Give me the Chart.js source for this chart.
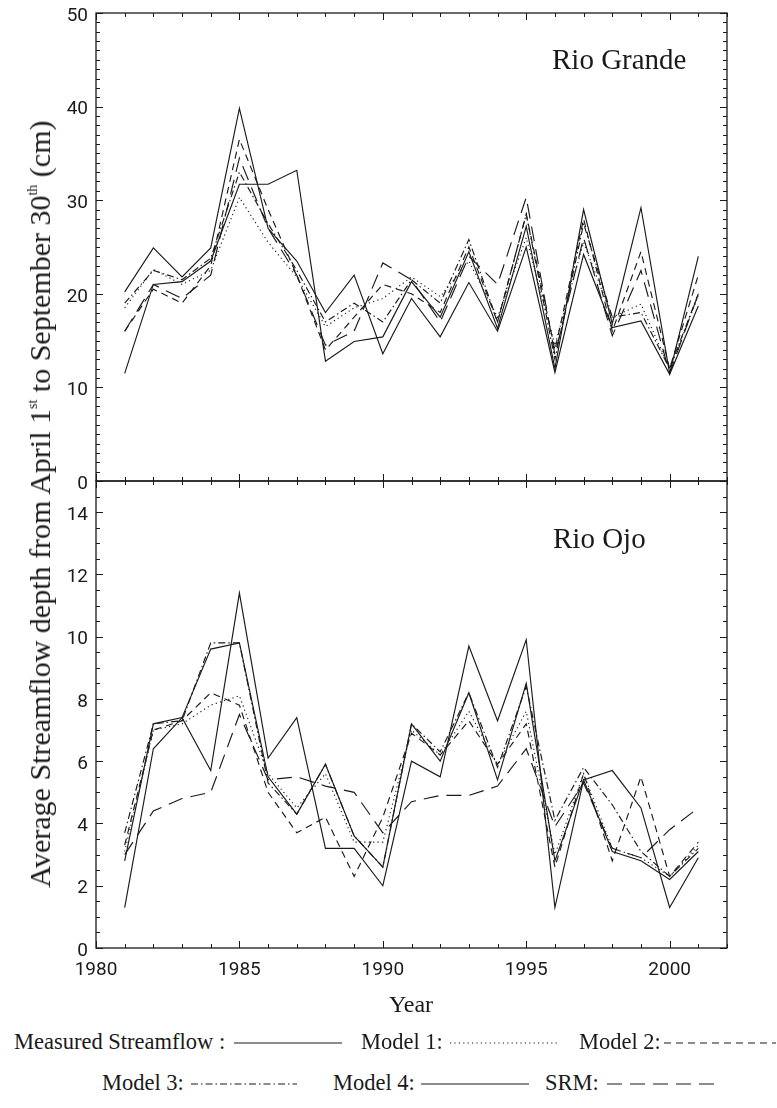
<!DOCTYPE html>
<html>
<head>
<meta charset="utf-8">
<script src="https://cdn.jsdelivr.net/npm/chart.js@4.4.1/dist/chart.umd.min.js"></script>
<style>
  body { margin: 0; background: #fff; width: 777px; height: 1108px; position: relative; overflow: hidden;
         font-family: "Liberation Serif", "Times New Roman", serif; color: #1a1a1a; }
  canvas { position: absolute; left: 0; }
  #chartTop { top: 0; }
  #chartBottom { top: 471px; }
  .txt { position: absolute; white-space: nowrap; line-height: 1; }
  .basin { font-size: 29px; }
  #yTitle { font-size: 30px; left: 40px; top: 504px; transform: translate(-50%, -50%) rotate(-90deg); }
  #yTitle sup { font-size: 14px; vertical-align: 13px; }
  #xTitle { font-size: 24px; left: 411px; top: 1004px; transform: translate(-50%, -50%); }
  .leg { position: absolute; font-size: 22.5px; white-space: nowrap; line-height: 1; transform: translateY(-50%); }
</style>
</head>
<body>
<canvas id="chartTop" width="777" height="495"></canvas>
<canvas id="chartBottom" width="777" height="530"></canvas>

<div class="txt basin" style="left:552px; top:45px;">Rio Grande</div>
<div class="txt basin" style="left:553px; top:524px;">Rio Ojo</div>
<div class="txt" id="yTitle">Average Streamflow depth from April 1<sup>st</sup> to September 30<sup>th</sup> (cm)</div>
<div class="txt" id="xTitle">Year</div>
<div id="legend"></div>

<script>
(function () {
  const years = [1981, 1982, 1983, 1984, 1985, 1986, 1987, 1988, 1989, 1990, 1991,
                 1992, 1993, 1994, 1995, 1996, 1997, 1998, 1999, 2000, 2001];

  // Rio Grande (cm)
  const rgMeasured = [11.5, 21.0, 21.3, 23.5, 31.7, 31.7, 33.2, 12.8, 14.9, 15.4, 21.3, 17.5, 24.5, 16.3, 27.2, 12.0, 29.0, 16.8, 29.2, 11.5, 24.0];
  const rgModel1   = [18.5, 22.6, 21.0, 22.5, 30.3, 25.5, 21.8, 16.5, 18.5, 19.5, 21.8, 19.7, 23.5, 17.5, 26.0, 14.5, 25.5, 17.5, 18.9, 12.0, 19.8];
  const rgModel2   = [16.0, 20.5, 19.0, 23.0, 36.5, 29.0, 22.0, 14.0, 17.5, 21.0, 20.0, 18.0, 25.0, 17.0, 28.5, 14.0, 28.0, 16.0, 24.5, 12.0, 22.0];
  const rgModel3   = [19.0, 22.5, 21.5, 23.8, 33.0, 27.5, 22.5, 17.0, 19.0, 17.0, 21.5, 19.0, 25.8, 17.0, 28.5, 13.0, 27.5, 17.5, 18.0, 12.0, 20.0];
  const rgModel4   = [20.2, 24.9, 21.8, 24.9, 39.8, 27.0, 23.5, 18.0, 22.0, 13.6, 19.5, 15.4, 21.2, 16.0, 25.0, 11.6, 24.2, 16.4, 17.1, 11.4, 18.7];
  const rgSRM      = [16.0, 21.0, 19.5, 22.0, 34.5, 27.0, 22.0, 14.5, 16.0, 23.3, 21.5, 17.0, 24.0, 21.0, 30.3, 13.5, 26.0, 15.5, 22.5, 11.5, 20.0];

  // Rio Ojo (cm)
  const roMeasured = [1.3, 6.4, 7.4, 5.7, 11.4, 6.1, 7.4, 3.2, 3.2, 2.0, 6.0, 5.5, 9.7, 7.3, 9.9, 1.3, 5.4, 5.7, 4.5, 1.3, 2.9];
  const roModel1   = [3.1, 7.0, 7.2, 7.8, 8.1, 5.6, 4.5, 5.6, 3.4, 3.4, 7.0, 6.2, 7.6, 5.9, 7.6, 3.0, 5.6, 3.2, 2.9, 2.3, 3.3];
  const roModel2   = [3.3, 7.0, 7.3, 8.2, 7.8, 5.0, 3.7, 4.2, 2.3, 4.2, 6.9, 6.2, 7.3, 5.9, 7.2, 2.6, 5.6, 2.8, 5.5, 2.3, 3.4];
  const roModel3   = [3.7, 7.2, 7.3, 9.8, 9.8, 5.3, 4.3, 5.9, 3.6, 2.6, 7.2, 6.3, 8.2, 5.8, 8.4, 4.1, 5.8, 4.6, 3.1, 2.3, 3.2];
  const roModel4   = [2.8, 7.2, 7.4, 9.6, 9.8, 5.5, 4.3, 5.9, 3.6, 2.6, 7.2, 6.0, 8.2, 5.4, 8.5, 2.8, 5.4, 3.1, 2.8, 2.2, 3.1];
  const roSRM      = [3.0, 4.4, 4.8, 5.0, 7.5, 5.4, 5.5, 5.2, 5.0, 3.7, 4.7, 4.9, 4.9, 5.2, 6.4, 3.9, 5.3, 3.2, 2.9, 3.8, 4.5];

  const xTicks = [1980, 1985, 1990, 1995, 2000];
  const rgTicks = [0, 10, 20, 30, 40, 50];
  const roTicks = [0, 2, 4, 6, 8, 10, 12, 14];

  const INK = "#1a1a1a";
  const series = [
    { label: "Measured Streamflow", dash: [] },
    { label: "Model 1", dash: [1.2, 3.2] },
    { label: "Model 2", dash: [7, 5] },
    { label: "Model 3", dash: [7, 3, 1.5, 3] },
    { label: "Model 4", dash: [] },
    { label: "SRM", dash: [15, 8] },
  ];

  function toPoints(vals) {
    return vals.map((v, i) => ({ x: years[i], y: v }));
  }

  function buildSets(valueLists) {
    return valueLists.map((vals, i) => ({
      label: series[i].label,
      data: toPoints(vals),
      borderColor: INK,
      borderWidth: 1.15,
      borderDash: series[i].dash,
      pointRadius: 0,
      tension: 0,
      fill: false,
    }));
  }

  // frame + inward tick marks on all four sides
  const frameTicks = {
    id: "frameTicks",
    afterDatasetsDraw(chart, args, opts) {
      const { ctx, chartArea: a, scales } = chart;
      const x = scales.x, y = scales.y;
      ctx.save();
      ctx.strokeStyle = INK;
      ctx.lineWidth = 1.3;
      ctx.strokeRect(a.left, a.top, a.right - a.left, a.bottom - a.top);
      ctx.lineWidth = 1;
      ctx.beginPath();
      for (let yr = x.min; yr <= x.max; yr++) {
        const px = Math.round(x.getPixelForValue(yr)) + 0.5;
        const len = yr % 5 === 0 ? 7 : 4;
        ctx.moveTo(px, a.bottom); ctx.lineTo(px, a.bottom - len);
        ctx.moveTo(px, a.top); ctx.lineTo(px, a.top + len);
      }
      const n = Math.round((y.max - y.min) / opts.minor);
      for (let k = 0; k <= n; k++) {
        const v = y.min + k * opts.minor;
        const py = Math.round(y.getPixelForValue(v)) + 0.5;
        const major = Math.abs(v / opts.major - Math.round(v / opts.major)) < 1e-6;
        const len = major ? 7 : 4;
        ctx.moveTo(a.left, py); ctx.lineTo(a.left + len, py);
        ctx.moveTo(a.right, py); ctx.lineTo(a.right - len, py);
      }
      ctx.stroke();
      ctx.restore();
    },
  };

  const tickFont = { family: "Roboto, 'Liberation Sans', sans-serif", size: 19 };

  function makeChart(canvas, valueLists, yMax, yTickVals, minor, major, showX, padding) {
    return new Chart(canvas, {
      type: "line",
      data: { datasets: buildSets(valueLists) },
      plugins: [frameTicks],
      options: {
        responsive: false,
        animation: false,
        devicePixelRatio: 1,
        layout: { padding },
        plugins: {
          legend: { display: false },
          tooltip: { enabled: false },
          frameTicks: { minor, major },
        },
        scales: {
          x: {
            type: "linear",
            min: 1980,
            max: 2002,
            display: showX,
            grid: { display: false, drawTicks: false },
            border: { display: false },
            afterBuildTicks: (s) => { s.ticks = xTicks.map((v) => ({ value: v })); },
            afterFit: (s) => {
              s.height = showX ? 40 : 0;
              s.paddingLeft = 0;
              s.paddingRight = 0;
            },
            ticks: {
              color: INK, font: tickFont, padding: 11, maxRotation: 0, autoSkip: false,
              callback: (v) => String(v),
            },
          },
          y: {
            min: 0,
            max: yMax,
            grid: { display: false, drawTicks: false },
            border: { display: false },
            afterBuildTicks: (s) => { s.ticks = yTickVals.map((v) => ({ value: v })); },
            afterFit: (s) => {
              s.width = 46;
              s.paddingTop = 0;
              s.paddingBottom = 0;
            },
            ticks: { color: INK, font: tickFont, padding: 8, labelOffset: 3 },
          },
        },
      },
    });
  }

  makeChart(document.getElementById("chartTop"),
    [rgMeasured, rgModel1, rgModel2, rgModel3, rgModel4, rgSRM],
    50, rgTicks, 1, 10, false, { left: 50, right: 50, top: 13, bottom: 14 });

  makeChart(document.getElementById("chartBottom"),
    [roMeasured, roModel1, roModel2, roModel3, roModel4, roSRM],
    15, roTicks, 0.5, 2, true, { left: 50, right: 50, top: 10, bottom: 13 });

  // legend rows below the plot
  const legendItems = [
    { text: "Measured Streamflow :", tx: 14, ty: 1042, lx: 234, lw: 108 },
    { text: "Model 1:", tx: 361, ty: 1042, lx: 450, lw: 107 },
    { text: "Model 2:", tx: 579, ty: 1042, lx: 664, lw: 112 },
    { text: "Model 3:", tx: 102, ty: 1083, lx: 191, lw: 106 },
    { text: "Model 4:", tx: 333, ty: 1083, lx: 421, lw: 108 },
    { text: "SRM:", tx: 545, ty: 1083, lx: 607, lw: 109 },
  ];
  const legend = document.getElementById("legend");
  const ns = "http://www.w3.org/2000/svg";
  legendItems.forEach((it, i) => {
    const t = document.createElement("div");
    t.className = "leg";
    t.style.left = it.tx + "px";
    t.style.top = it.ty + "px";
    t.textContent = it.text;
    legend.appendChild(t);

    const svg = document.createElementNS(ns, "svg");
    svg.setAttribute("width", it.lw);
    svg.setAttribute("height", 6);
    svg.style.position = "absolute";
    svg.style.left = it.lx + "px";
    svg.style.top = (it.ty - 2) + "px";
    const ln = document.createElementNS(ns, "line");
    ln.setAttribute("x1", 0); ln.setAttribute("y1", 3);
    ln.setAttribute("x2", it.lw); ln.setAttribute("y2", 3);
    ln.setAttribute("stroke", INK);
    ln.setAttribute("stroke-width", 1.2);
    if (series[i].dash.length) ln.setAttribute("stroke-dasharray", series[i].dash.join(" "));
    svg.appendChild(ln);
    legend.appendChild(svg);
  });
})();
</script>
</body>
</html>
